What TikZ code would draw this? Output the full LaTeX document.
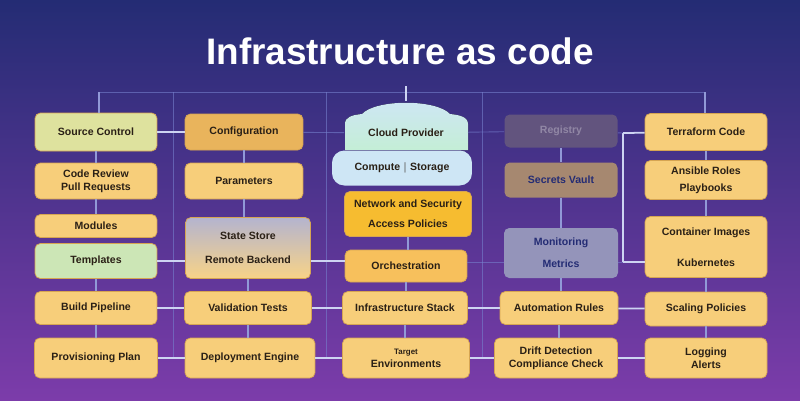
\documentclass[tikz,border=0pt]{standalone}
\usepackage{fontspec}
\setmainfont{Liberation Sans}

\definecolor{bgtop}{RGB}{36,44,116}
\definecolor{bgmid}{RGB}{62,52,140}
\definecolor{bgbot}{RGB}{124,60,170}
\definecolor{boxyel}{RGB}{247,206,122}
\definecolor{boxedge}{RGB}{214,165,82}
\definecolor{boxgold}{RGB}{233,180,92}
\definecolor{boxgreen}{RGB}{222,226,158}
\definecolor{boxmint}{RGB}{204,230,182}
\definecolor{boxsky}{RGB}{206,230,245}
\definecolor{boxamber}{RGB}{246,188,48}
\definecolor{boxorange}{RGB}{247,192,92}
\definecolor{boxdusk}{RGB}{98,84,126}
\definecolor{boxtan}{RGB}{166,136,112}
\definecolor{boxslate}{RGB}{148,148,186}
\definecolor{domecol}{RGB}{196,238,214}
\definecolor{inkcol}{RGB}{42,32,22}
\definecolor{linkcol}{RGB}{205,212,242}
\definecolor{buscol}{RGB}{118,128,205}

\tikzset{
  title/.style={text=white, font=\bfseries\fontsize{21}{24}\selectfont},
  box/.style={draw=boxedge, line width=0.4pt, fill=boxyel, rounded corners=3pt,
    align=center, inner sep=2pt, text=inkcol, font=\bfseries\fontsize{6}{7.5}\selectfont},
  link/.style={draw=linkcol, line width=1pt},
  vlink/.style={draw=buscol!80!white, line width=0.8pt},
  bus/.style={draw=buscol, line width=0.5pt, opacity=0.6},
}

\begin{document}
\begin{tikzpicture}[x=0.02cm, y=-0.02cm]
  % 背景
  \shade[top color=bgtop, middle color=bgmid, bottom color=bgbot] (0,0) rectangle (800,400);
  \useasboundingbox (0,0) rectangle (800,400);

  % タイトル
  \node[title] (title) at (400,51) {Infrastructure as code};

  % 1列目
  \node[box, fill=boxgreen, minimum width=2.44cm, minimum height=0.76cm] (a1) at (96,132) {Source Control};
  \node[box, minimum width=2.44cm, minimum height=0.72cm] (a2) at (96,181) {Code Review\\Pull Requests};
  \node[box, minimum width=2.44cm, minimum height=0.46cm] (a3) at (96,226) {Modules};
  \node[box, fill=boxmint, minimum width=2.44cm, minimum height=0.70cm] (a3b) at (96,261) {Templates};
  \node[box, minimum width=2.44cm, minimum height=0.66cm] (a4) at (96,308) {Build Pipeline};
  \node[box, minimum width=2.46cm, minimum height=0.80cm] (a5) at (96,358) {Provisioning Plan};

  % 2列目
  \node[box, fill=boxgold, minimum width=2.36cm, minimum height=0.72cm] (b1) at (244,132) {Configuration};
  \node[box, minimum width=2.36cm, minimum height=0.72cm] (b2) at (244,181) {Parameters};
  \node[box, top color=boxslate!70!white, bottom color=boxyel!90!white, minimum width=2.5cm, minimum height=1.22cm] (b3) at (248,248) {State Store\\[6pt]Remote Backend};
  \node[box, minimum width=2.54cm, minimum height=0.66cm] (b4) at (248,308) {Validation Tests};
  \node[box, minimum width=2.6cm, minimum height=0.80cm] (b5) at (250,358) {Deployment Engine};

  % 3列目
  \fill[top color=boxsky, bottom color=domecol] (345,150) -- (345,124)
    .. controls (345,117) and (352,115) .. (362,114)
    .. controls (376,99) and (436,99) .. (450,114)
    .. controls (460,115) and (468,117) .. (468,124) -- (468,150) -- cycle;
  \node[inner sep=2pt, minimum width=2.46cm, minimum height=0.68cm, text=inkcol, font=\bfseries\fontsize{6}{7.5}\selectfont] (c1) at (406,133) {Cloud Provider};
  \node[box, draw=none, fill=boxsky, rounded corners=7pt, minimum width=2.8cm, minimum height=0.70cm] (c2) at (402,168) {Compute $|$ Storage};
  \node[box, fill=boxamber, minimum width=2.54cm, minimum height=0.90cm] (c3) at (408,214) {Network and Security\\[4pt]Access Policies};
  \node[box, fill=boxorange, minimum width=2.44cm, minimum height=0.64cm] (c4) at (406,266) {Orchestration};
  \node[box, minimum width=2.5cm, minimum height=0.66cm] (c5) at (405,308) {Infrastructure Stack};
  \node[box, minimum width=2.54cm, minimum height=0.80cm] (c6) at (406,358) {{\fontsize{4.5}{5}\selectfont Target}\\Environments};

  % 4列目
  \node[box, draw=none, fill=boxdusk, text=boxdusk!70!white, minimum width=2.26cm, minimum height=0.66cm] (d1) at (561,131) {Registry};
  \node[box, draw=none, fill=boxtan, text=bgtop, minimum width=2.26cm, minimum height=0.70cm] (d2) at (561,180) {Secrets Vault};
  \node[box, draw=none, fill=boxslate, text=bgtop, minimum width=2.28cm, minimum height=1.0cm] (d3) at (561,253) {Monitoring\\[5pt]Metrics};
  \node[box, minimum width=2.36cm, minimum height=0.66cm] (d4) at (559,308) {Automation Rules};
  \node[box, minimum width=2.46cm, minimum height=0.80cm] (d5) at (556,358) {Drift Detection\\Compliance Check};

  % 5列目
  \node[box, minimum width=2.44cm, minimum height=0.74cm] (e1) at (706,132) {Terraform Code};
  \node[box, minimum width=2.44cm, minimum height=0.78cm] (e2) at (706,180) {Ansible Roles\\[2pt]Playbooks};
  \node[box, minimum width=2.44cm, minimum height=1.22cm] (e3) at (706,247) {Container Images\\[10pt]Kubernetes};
  \node[box, minimum width=2.44cm, minimum height=0.68cm] (e4) at (706,309) {Scaling Policies};
  \node[box, minimum width=2.44cm, minimum height=0.80cm] (e5) at (706,358) {Logging\\Alerts};

  % 上の線
  \coordinate (hl) at (99,92);
  \coordinate (hr) at (705,92);
  \coordinate (hm) at (406,86);
  \coordinate (ctop) at (406,101);
  \draw[bus] (hl) -- (hr);
  \draw[link] (hm) -- (ctop);
  \draw[vlink] (hl) -- (hl |- a1.north);
  \draw[vlink] (hr) -- (hr |- e1.north);

  % 縦の線
  \coordinate (v1t) at (173,92);
  \coordinate (v1b) at (173,358);
  \coordinate (v2t) at (326,92);
  \coordinate (v2b) at (326,358);
  \coordinate (v3t) at (482,92);
  \coordinate (v3b) at (482,358);
  \coordinate (k1) at (623,133);
  \coordinate (k2) at (623,262);
  \draw[bus] (v1t) -- (v1b);
  \draw[bus] (v2t) -- (v2b);
  \draw[bus] (v3t) -- (v3b);
  \draw[link] (k1) -- (k2);

  % 列の中の線
  \draw[vlink] (a1) -- (a2);
  \draw[vlink] (a2) -- (a3);
  \draw[vlink] (a3b) -- (a4);
  \draw[vlink] (a4) -- (a5);
  \draw[vlink] (b1) -- (b2);
  \draw[vlink] (b2.south) -- (b2.south |- b3.north);
  \draw[vlink] (b3.south) -- (b3.south |- b4.north);
  \draw[vlink] (b4.south) -- (b4.south |- b5.north);
  \draw[vlink] (c3.south) -- (c3.south |- c4.north);
  \draw[vlink] (c4.south) -- (c4.south |- c5.north);
  \draw[vlink] (c5.south) -- (c5.south |- c6.north);
  \draw[vlink] (d1) -- (d2);
  \draw[vlink] (d2) -- (d3);
  \draw[vlink] (d3.south) -- (d3.south |- d4.north);
  \draw[vlink] (d4.south) -- (d4.south |- d5.north);
  \draw[vlink] (e1) -- (e2);
  \draw[vlink] (e2) -- (e3);
  \draw[vlink] (e3) -- (e4);
  \draw[vlink] (e4) -- (e5);

  % 横の線
  \draw[link] (a1) -- (b1);
  \draw[bus] (b1) -- (c1);
  \draw[bus] (c1) -- (d1);
  \draw[bus] (d1) -- (k1);
  \draw[link] (k1) -- (e1);
  \draw[link] (a3b) -- (a3b -| b3.west);
  \draw[link] (b3.east |- a3b) -- (a3b -| c4.west);
  \draw[bus] (c4.east |- k2) -- (d3.west |- k2);
  \draw[bus] (d3.east |- k2) -- (k2);
  \draw[link] (k2) -- (k2 -| e3.west);
  \draw[link] (a4) -- (b4);
  \draw[link] (b4) -- (c5);
  \draw[link] (c5) -- (d4);
  \draw[link] (d4) -- (e4);
  \draw[link] (a5) -- (b5);
  \draw[link] (b5) -- (c6);
  \draw[link] (c6) -- (d5);
  \draw[link] (d5) -- (e5);
\end{tikzpicture}
\end{document}
